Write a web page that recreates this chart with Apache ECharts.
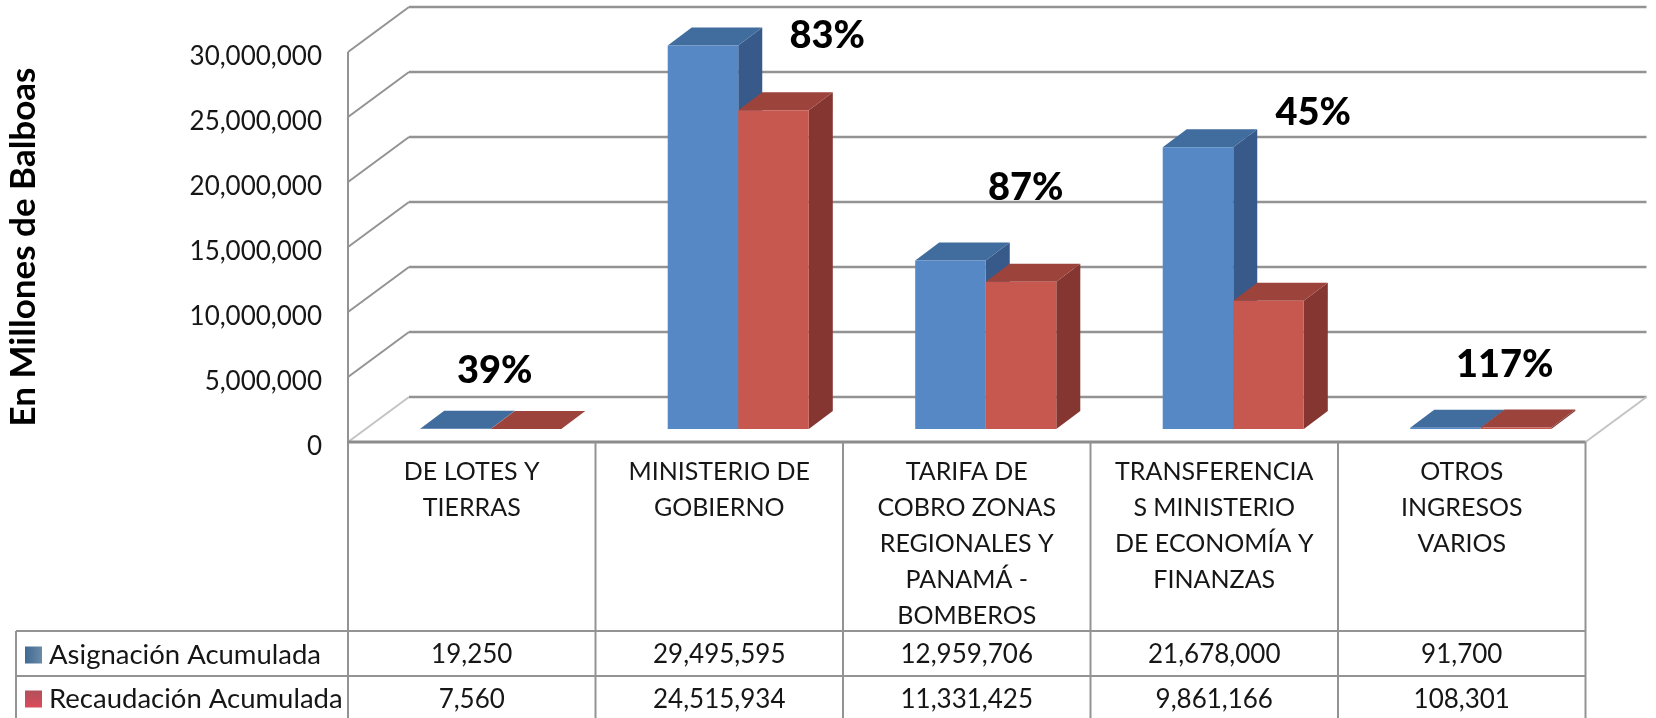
<!DOCTYPE html>
<html>
<head>
<meta charset="utf-8">
<title>Recaudación</title>
<script src="https://cdn.jsdelivr.net/npm/echarts@6/dist/echarts.min.js"></script>
<style>
    html, body { margin: 0; padding: 0; background: #fff; }
    #chart { width: 1656px; height: 718px; }
</style>
</head>
<body>
<div id="chart"></div>
<script>
// datos
var categories = ['DE LOTES Y\nTIERRAS', 'MINISTERIO DE\nGOBIERNO', 'TARIFA DE\nCOBRO ZONAS\nREGIONALES Y\nPANAMÁ -\nBOMBEROS', 'TRANSFERENCIA\nS MINISTERIO\nDE ECONOMÍA Y\nFINANZAS', 'OTROS\nINGRESOS\nVARIOS'];
var asignacion = [19250, 29495595, 12959706, 21678000, 91700];
var recaudacion = [7560, 24515934, 11331425, 9861166, 108301];
var porcentajes = ['39%', '83%', '87%', '45%', '117%'];
var yTicks = [0, 5000000, 10000000, 15000000, 20000000, 25000000, 30000000];
var nombreAsignacion = 'Asignación Acumulada';
var nombreRecaudacion = 'Recaudación Acumulada';
var tituloY = 'En Millones de Balboas';

// posicion de los textos de porcentaje (cajas sueltas en el original)
var pctDx = [23, 108, 59, 99, 43];
var pctY = [371, 36, 188, 113, 365];

// perspectiva y tabla
var wallDx = 61, wallDy = 45;
var barShiftX = 19, barShiftY = 13, barDepthX = 24, barDepthY = 18, barRatio = 0.285;
var tableLeft = 16, tableRow1 = 631, tableRow2 = 676, tableBottom = 718;
var gridColor = '#939393', lightColor = '#c4c4c4', textColor = '#161616';
var fontName = 'Lato';

function fmt(v) {
    return Number(v).toLocaleString('en-US');
}

function line(x1, y1, x2, y2, color, width) {
    return {
        type: 'line',
        shape: { x1: x1, y1: y1, x2: x2, y2: y2 },
        style: { stroke: color, lineWidth: width }
    };
}

function poly(points, fill) {
    return { type: 'polygon', shape: { points: points }, style: { fill: fill, stroke: null } };
}

// lineas del fondo, una por cada tick
function renderWall(params, api) {
    var cs = params.coordSys;
    var y = api.coord([0, api.value(1)])[1];
    var color = api.value(1) === 0 ? lightColor : gridColor;
    var right = cs.x + cs.width + wallDx;
    var children = [line(cs.x, y, cs.x + wallDx, y - wallDy, color, 2)];
    children.push(line(cs.x + wallDx, y - wallDy, right, y - wallDy, gridColor, 2.5));
    if (api.value(1) === 0) {
        children.push(line(right, y - wallDy, right - wallDx, y, lightColor, 2));
    }
    return { type: 'group', children: children };
}

// reticula de la tabla de datos
function renderTable(params, api) {
    var cs = params.coordSys;
    var base = cs.y + cs.height;
    var right = cs.x + cs.width;
    var children = [
        line(cs.x, cs.y, cs.x, tableBottom, gridColor, 2),
        line(tableLeft, tableRow1, tableLeft, tableBottom, gridColor, 2),
        line(tableLeft, tableRow1, right, tableRow1, gridColor, 2),
        line(tableLeft, tableRow2, right, tableRow2, gridColor, 2),
        line(cs.x, base, right, base, '#8c8c8c', 3)
    ];
    for (var i = 1; i <= categories.length; i++) {
        var x = cs.x + cs.width / categories.length * i;
        children.push(line(x, base, x, tableBottom, gridColor, 2));
    }
    return { type: 'group', children: children };
}

// barra 3D: side = -1 a la izquierda del centro, 0 a la derecha
function barRenderer(side, front, top, lateral) {
    return function (params, api) {
        var band = api.size([1, 0])[0];
        var w = band * barRatio;
        var p = api.coord([api.value(0), api.value(1)]);
        var zero = api.coord([api.value(0), 0]);
        var x = p[0] + barShiftX + side * w;
        var yTop = p[1] - barShiftY;
        var yBase = zero[1] - barShiftY;
        return {
            type: 'group',
            children: [
                poly([[x + w, yTop], [x + w + barDepthX, yTop - barDepthY], [x + w + barDepthX, yBase - barDepthY], [x + w, yBase]], lateral),
                poly([[x, yTop], [x + barDepthX, yTop - barDepthY], [x + w + barDepthX, yTop - barDepthY], [x + w, yTop]], top),
                poly([[x, yTop], [x + w, yTop], [x + w, yBase], [x, yBase]], front)
            ]
        };
    };
}

function renderPct(params, api) {
    var i = api.value(0);
    return {
        type: 'text',
        style: {
            text: porcentajes[i],
            x: api.coord([i, 0])[0] + pctDx[i],
            y: pctY[i],
            align: 'center',
            verticalAlign: 'middle',
            fill: '#000',
            font: '900 38px ' + fontName
        }
    };
}

function pairs(values) {
    return values.map(function (v, i) { return [i, v]; });
}

function valueAxis(values, margin) {
    return {
        type: 'category',
        position: 'bottom',
        data: values.map(fmt),
        axisLine: { show: false },
        axisTick: { show: false },
        axisLabel: { interval: 0, margin: margin, fontFamily: fontName, fontSize: 26, color: textColor, lineHeight: 30 }
    };
}

var chart = echarts.init(document.getElementById('chart'));
var option = {
    animation: false,
    backgroundColor: '#fff',
    grid: { left: 348, top: 52, width: 1237.5, height: 390, outerBoundsMode: 'none' },
    legend: {
        orient: 'vertical',
        left: 20,
        top: 636,
        itemWidth: 17,
        itemHeight: 17,
        itemGap: 16,
        selectedMode: false,
        icon: 'rect',
        data: [nombreAsignacion, nombreRecaudacion],
        textStyle: { fontFamily: fontName, fontSize: 27.5, color: textColor, padding: [0, 0, 0, 2] }
    },
    xAxis: [
        {
            type: 'category',
            position: 'bottom',
            data: categories,
            axisLine: { show: false },
            axisTick: { show: false },
            axisLabel: { interval: 0, margin: 12, fontFamily: fontName, fontSize: 25, color: textColor, lineHeight: 36 }
        },
        valueAxis(asignacion, 198),
        valueAxis(recaudacion, 243)
    ],
    yAxis: {
        type: 'value',
        min: yTicks[0],
        max: yTicks[yTicks.length - 1],
        interval: yTicks[1] - yTicks[0],
        name: tituloY,
        nameLocation: 'middle',
        nameRotate: 90,
        nameGap: 307,
        nameTextStyle: { fontFamily: fontName, fontSize: 35, fontWeight: 'bold', color: '#000' },
        axisLine: { show: false },
        axisTick: { show: false },
        splitLine: { show: false },
        axisLabel: { margin: 26, verticalAlign: 'top', lineHeight: 10, fontFamily: fontName, fontSize: 26, color: textColor, formatter: fmt }
    },
    series: [
        {
            name: 'fondo',
            type: 'custom',
            z: 1,
            silent: true,
            renderItem: renderWall,
            encode: { x: 0, y: 1 },
            data: pairs(yTicks).map(function (d) { return [0, d[1]]; })
        },
        {
            name: 'tabla',
            type: 'custom',
            z: 1,
            silent: true,
            renderItem: renderTable,
            encode: { x: 0, y: 1 },
            data: [[0, 0]]
        },
        {
            name: nombreAsignacion,
            type: 'custom',
            z: 2,
            renderItem: barRenderer(-1, '#5588c4', '#406d9e', '#375a8a'),
            encode: { x: 0, y: 1 },
            itemStyle: { color: { type: 'linear', x: 0, y: 0, x2: 1, y2: 0, colorStops: [{ offset: 0, color: '#3f6a94' }, { offset: 1, color: '#6c8aa6' }] } },
            data: pairs(asignacion)
        },
        {
            name: nombreRecaudacion,
            type: 'custom',
            z: 3,
            renderItem: barRenderer(0, '#c65850', '#9c433c', '#853631'),
            encode: { x: 0, y: 1 },
            itemStyle: { color: { type: 'linear', x: 0, y: 0, x2: 0, y2: 1, colorStops: [{ offset: 0, color: '#b0515c' }, { offset: 1, color: '#dc4a5a' }] } },
            data: pairs(recaudacion)
        },
        {
            name: 'porcentaje',
            type: 'custom',
            z: 4,
            silent: true,
            renderItem: renderPct,
            encode: { x: 0, y: 1 },
            data: pairs(asignacion)
        }
    ]
};
chart.setOption(option);
</script>
</body>
</html>
